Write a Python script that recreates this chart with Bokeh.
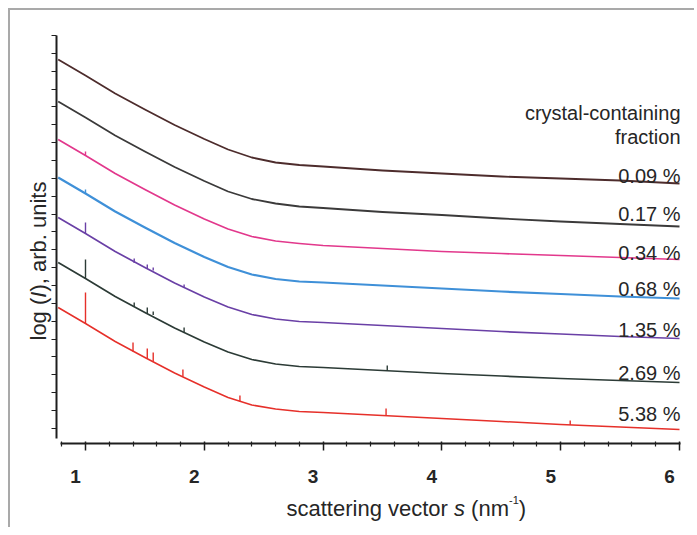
import math
from bokeh.plotting import figure
from bokeh.models import (Range1d, FixedTicker, Label, LabelSet, ColumnDataSource,
                          CustomJSTickFormatter)
from bokeh.embed import file_html
from bokeh.resources import INLINE
from bokeh.core.properties import value

# ---------------- data ----------------
s_vals = [0.77, 1.0, 1.25, 1.5, 1.75, 2.0, 2.2, 2.4, 2.6, 2.8, 3.0, 3.5, 4.0, 4.5, 5.0, 5.5, 6.0]

logI_009 = [38.4, 36.8, 35.0, 33.4, 31.85, 30.45, 29.4, 28.6, 28.1, 27.85, 27.7, 27.3, 27.0, 26.7, 26.5, 26.3, 26.0]
logI_017 = [34.2, 32.6, 30.8, 29.2, 27.65, 26.25, 25.2, 24.45, 24.0, 23.7, 23.55, 23.15, 22.85, 22.5, 22.2, 21.95, 21.7]
logI_034 = [30.4, 28.8, 27.0, 25.4, 23.85, 22.45, 21.45, 20.7, 20.25, 20.0, 19.8, 19.5, 19.2, 19.0, 18.8, 18.6, 18.4]
logI_068 = [26.6, 25.0, 23.2, 21.6, 20.05, 18.65, 17.65, 16.9, 16.45, 16.2, 16.1, 15.8, 15.5, 15.2, 14.95, 14.7, 14.5]
logI_135 = [22.6, 21.0, 19.2, 17.6, 16.05, 14.65, 13.65, 12.9, 12.45, 12.2, 12.1, 11.8, 11.5, 11.2, 10.95, 10.7, 10.5]
logI_269 = [18.1, 16.5, 14.7, 13.1, 11.55, 10.15, 9.15, 8.4, 7.95, 7.7, 7.6, 7.3, 7.0, 6.75, 6.5, 6.3, 6.1]
logI_538 = [13.6, 12.0, 10.2, 8.6, 7.05, 5.65, 4.6, 3.85, 3.45, 3.2, 3.1, 2.8, 2.5, 2.2, 1.9, 1.65, 1.4]

# Bragg peaks: position, baseline, peak top
peak_s_034 = [1.00]
peak_base_034 = [28.8]
peak_top_034 = [29.2]
peak_s_068 = [1.00]
peak_base_068 = [25.0]
peak_top_068 = [25.4]
peak_s_135 = [1.00, 1.41, 1.52, 1.57, 1.83]
peak_base_135 = [21.0, 18.05, 17.5, 17.3, 15.6]
peak_top_135 = [22.1, 18.5, 17.9, 17.6, 15.9]
peak_s_269 = [1.00, 1.41, 1.52, 1.57, 1.83, 3.54]
peak_base_269 = [16.5, 13.7, 13.0, 12.85, 11.1, 7.3]
peak_top_269 = [18.4, 14.1, 13.6, 13.2, 11.6, 7.8]
peak_s_538 = [1.00, 1.40, 1.52, 1.57, 1.82, 2.30, 3.53, 5.08]
peak_base_538 = [12.0, 9.2, 8.5, 8.2, 6.7, 4.2, 2.8, 1.85]
peak_top_538 = [15.1, 10.1, 9.5, 9.1, 7.4, 4.8, 3.5, 2.3]

fraction_labels = ["0.09 %", "0.17 %", "0.34 %", "0.68 %", "1.35 %", "2.69 %", "5.38 %"]
legend_title = ["crystal-containing", "fraction"]

xtick_values = [1, 2, 3, 4, 5, 6]
xtick_labels = ["1", "2", "3", "4", "5", "6"]
xminor_values = [0.8, 1.2, 1.4, 1.6, 1.8, 2.2, 2.4, 2.6, 2.8, 3.2, 3.4, 3.6, 3.8,
                 4.2, 4.4, 4.6, 4.8, 5.2, 5.4, 5.6, 5.8]

# ---------------- styling ----------------
FONT = "Liberation Sans"
TXT = "#262626"
AX = "#1e1e1e"

series = [
    (logI_009, "#4d2c2c", 1.8, None),
    (logI_017, "#3b3a3a", 1.8, None),
    (logI_034, "#e2388c", 1.7, (peak_s_034, peak_base_034, peak_top_034)),
    (logI_068, "#3f90d8", 2.2, (peak_s_068, peak_base_068, peak_top_068)),
    (logI_135, "#6a40a6", 1.7, (peak_s_135, peak_base_135, peak_top_135)),
    (logI_269, "#2c3b36", 1.7, (peak_s_269, peak_base_269, peak_top_269)),
    (logI_538, "#e6302a", 1.5, (peak_s_538, peak_base_538, peak_top_538)),
]

p = figure(width=686, height=519, output_backend="svg", toolbar_location=None,
           x_range=Range1d(0.3687, 6.1431), y_range=Range1d(-8.6, 43.3),
           min_border=0)
p.title.visible = False
p.styles = {"margin-top": "8px", "margin-left": "8px",
            "border-top": "2px solid #a9a9a9", "border-left": "2px solid #a9a9a9"}
p.background_fill_color = "white"
p.border_fill_color = "white"
p.outline_line_color = None
p.grid.visible = False

for ys, col, lw, pk in series:
    p.line(s_vals, ys, line_color=col, line_width=lw, line_join="round")
    if pk is not None:
        ps, pb, pt = pk
        p.segment(x0=ps, y0=pb, x1=ps, y1=pt, line_color=col, line_width=1.4)

# x axis
p.xaxis.fixed_location = 0.0
p.xaxis.bounds = (0.79, 6.005)
p.xaxis.ticker = FixedTicker(ticks=xtick_values, minor_ticks=xminor_values)
p.xaxis.formatter = CustomJSTickFormatter(code="return ''")
p.xaxis.axis_line_color = AX
p.xaxis.axis_line_width = 2
p.xaxis.major_tick_line_color = AX
p.xaxis.major_tick_line_width = 1.5
p.xaxis.major_tick_out = 7
p.xaxis.major_tick_in = 2
p.xaxis.minor_tick_line_color = AX
p.xaxis.minor_tick_line_width = 1.2
p.xaxis.minor_tick_out = 3
p.xaxis.minor_tick_in = 2

# y axis (unlabelled ticks)
ytick_values = [40.8 - 1.786 * k for k in range(23)]
p.yaxis.fixed_location = 0.76
p.yaxis.bounds = (0.5, 40.8)
p.yaxis.ticker = FixedTicker(ticks=ytick_values, minor_ticks=[])
p.yaxis.formatter = CustomJSTickFormatter(code="return ''")
p.yaxis.axis_line_color = AX
p.yaxis.axis_line_width = 2
p.yaxis.major_tick_line_color = AX
p.yaxis.major_tick_line_width = 1.2
p.yaxis.major_tick_out = 5
p.yaxis.major_tick_in = 0

# x tick labels
tick_src = ColumnDataSource(dict(x=xtick_values, text=xtick_labels))
p.add_layout(LabelSet(x="x", y=47, y_units="screen", text="text", source=tick_src,
                      x_offset=-10, text_align="center", text_baseline="alphabetic",
                      text_font=value(FONT), text_font_size="19px",
                      text_font_style="bold", text_color=TXT))


def lab(txt, x, y, size="22px", style="normal", angle=0.0, align="left"):
    p.add_layout(Label(x=x, y=y, x_units="screen", y_units="screen", text=txt,
                       text_font=FONT, text_font_size=size, text_font_style=style,
                       text_color=TXT, text_align=align, text_baseline="alphabetic",
                       angle=angle))


# x axis title (pieces for italic s and superscript)
lab("scattering vector", 276, 21)
lab("s", 443.5, 21, style="italic")
lab("(nm", 460.6, 21)
lab("-1", 498.5, 30, size="11px")
lab(")", 508.3, 21)

# y axis title
YT = 28
lab("log (", YT, 189, angle=math.pi / 2)
lab("I", YT, 231.8, style="italic", angle=math.pi / 2)
lab("), arb. units", YT, 237.9, angle=math.pi / 2)

# right-hand labels
lab(legend_title[0], 670, 417, size="20px", align="right")
lab(legend_title[1], 670, 393, size="20px", align="right")
for txt, yb in zip(fraction_labels, [354, 316, 277, 241, 200, 157, 116]):
    lab(txt, 670, yb, size="20px", align="right")

open("out.html", "w").write(file_html(p, INLINE))
